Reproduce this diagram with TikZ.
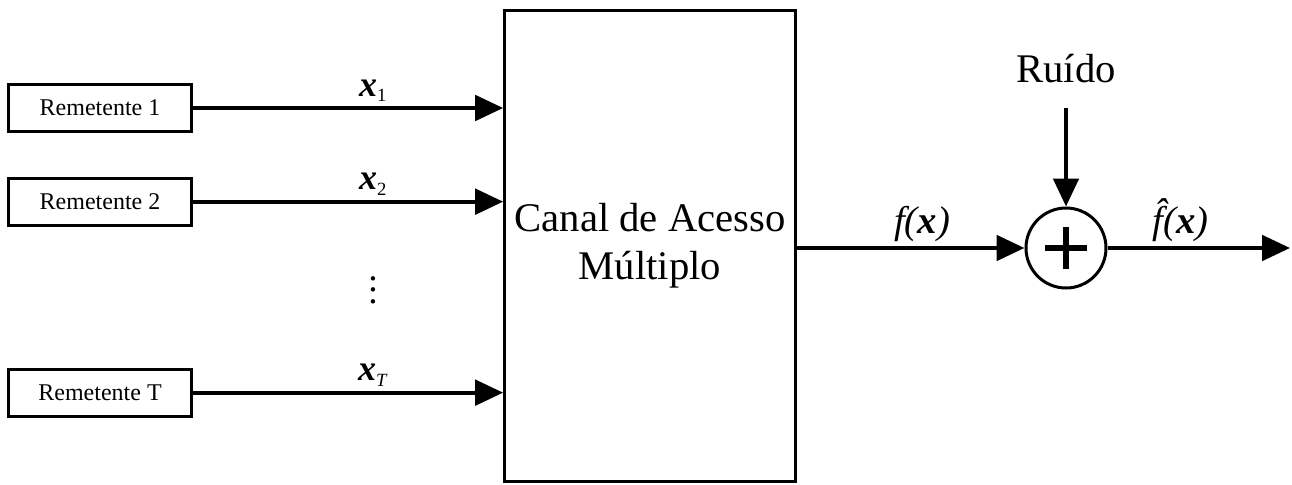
\documentclass[tikz,border=0pt]{standalone}
\usepackage{fontspec}
\setmainfont{Liberation Serif}
\usetikzlibrary{arrows.meta, calc, positioning}
\tikzstyle{block} = [rectangle, line width=2.25pt, text centered, draw=black]
\tikzstyle{sender} = [block, minimum width=137pt, minimum height=35pt, font=\fontsize{18}{21}\selectfont]
\tikzstyle{arrow} = [line width=3pt, -{Triangle[length=21pt,width=19pt]}]
\tikzstyle{lbl} = [font=\fontsize{27}{32}\selectfont, inner sep=3pt]
\newcommand{\subidx}[1]{\raisebox{-0.35ex}{\fontsize{14}{16}\selectfont #1}}

\begin{document}
\begin{tikzpicture}[x=0.75pt, y=-0.75pt]
		\useasboundingbox (0,0) rectangle (1292,485);
		\node (Canal) [block, minimum width=218pt, minimum height=352.5pt, align=center, font=\fontsize{30.5}{36}\selectfont] at (650,246) {Canal de Acesso\\M\'ultiplo};
		\node (Rem1) [sender] at (100,108) {Remetente 1};
		\node (Rem2) [sender, below=33pt of Rem1] {Remetente 2};
		\node (RemT) [sender, below=106pt of Rem2] {Remetente T};
		\node (Pontos) [align=center, font=\fontsize{28}{8.75}\selectfont, inner sep=0pt] at (373,290) {.\\.\\.};
		\node (Soma) [draw, circle, line width=2.25pt, minimum size=60pt, inner sep=0pt] at (1066,248) {};
		\node (Ruido) [anchor=base, inner sep=0pt, font=\fontsize{30.5}{36}\selectfont] at (1066,83) {Ru\'ido};
		\coordinate (Saida) at (1290,248);
		\draw [line width=4.5pt] ($(Soma)+(-21,0)$) -- ($(Soma)+(21,0)$);
		\draw [line width=4.5pt] ($(Soma)+(0,-21)$) -- ($(Soma)+(0,21)$);
		\draw [arrow] (Rem1) -- node[lbl, pos=0.58, above]{\textbf{\textit{x}}\subidx{1}} (Rem1 -| Canal.west);
		\draw [arrow] (Rem2) -- node[lbl, pos=0.58, above]{\textbf{\textit{x}}\subidx{2}} (Rem2 -| Canal.west);
		\draw [arrow] (RemT) -- node[lbl, pos=0.58, above]{\textbf{\textit{x}}\subidx{\textit{T}}} (RemT -| Canal.west);
		\draw [arrow] (Canal.east |- Soma) -- node[lbl, pos=0.55, above, font=\fontsize{29}{34}\selectfont]{\textit{f(\textbf{x})}} (Soma);
		\draw [arrow] (Soma) -- node[lbl, pos=0.4, above, font=\fontsize{29}{34}\selectfont]{\textit{\^{f}(\textbf{x})}} (Saida);
		\draw [arrow, shorten <=18pt] (Ruido) -- (Soma);
	\end{tikzpicture}
\end{document}
